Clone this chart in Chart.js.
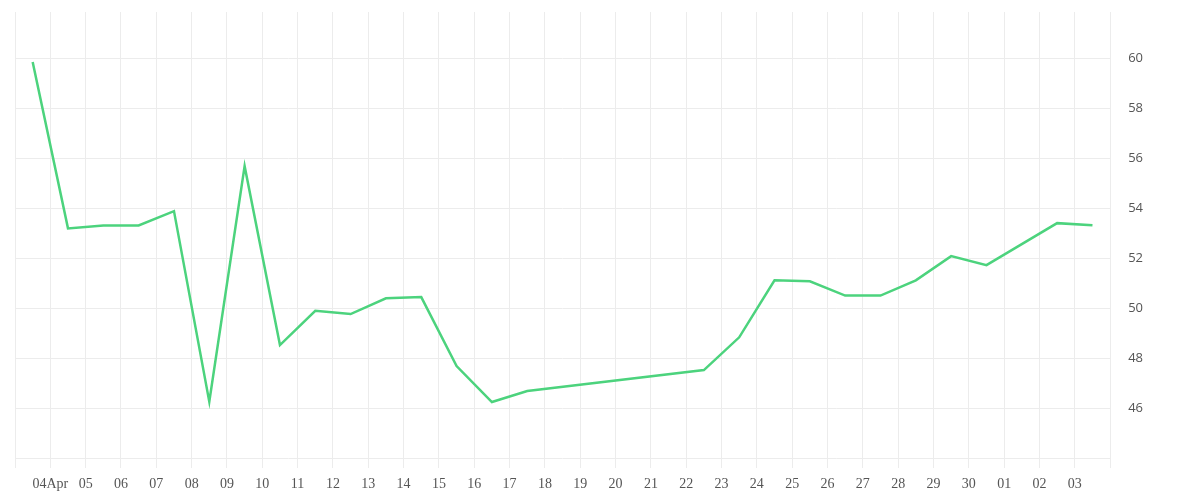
<!DOCTYPE html>
<html>
<head>
<meta charset="utf-8">
<script src="https://cdn.jsdelivr.net/npm/chart.js@4"></script>
<style>
  html, body { margin: 0; padding: 0; background: #fff; }
  #wrap { width: 1200px; height: 500px; }
</style>
</head>
<body>
<div id="wrap"><canvas id="priceChart"></canvas></div>
<script>
// --- data ---
const dates = ['04-03', '04-04', '04-05', '04-06', '04-07', '04-08', '04-09', '04-10',
    '04-11', '04-12', '04-13', '04-14', '04-15', '04-16', '04-17', '04-22', '04-23',
    '04-24', '04-25', '04-26', '04-27', '04-28', '04-29', '04-30', '05-02', '05-03'];
const values = [59.85, 53.19, 53.31, 53.31, 53.88, 46.25, 55.68, 48.52,
    49.89, 49.76, 50.39, 50.44, 47.68, 46.24, 46.68, 47.52, 48.83,
    51.11, 51.07, 50.50, 50.50, 51.11, 52.08, 51.72, 53.40, 53.32];
const tickLabels = ['04Apr', '05', '06', '07', '08', '09', '10', '11', '12', '13', '14',
    '15', '16', '17', '18', '19', '20', '21', '22', '23', '24', '25', '26', '27', '28',
    '29', '30', '01', '02', '03'];
const yTicks = [44, 46, 48, 50, 52, 54, 56, 58, 60];

// day offset from Apr 3 00:00, points sit at noon
function dayOffset(d) {
    const [m, day] = d.split('-').map(Number);
    return (m === 4 ? day - 3 : 30 - 3 + day) + 0.5;
}

const points = dates.map((d, i) => ({ x: dayOffset(d), y: values[i] }));
const gridColor = '#ececec';

document.addEventListener('DOMContentLoaded', function() {
    const ctx = document.getElementById('priceChart').getContext('2d');
    new Chart(ctx, {
        type: 'line',
        data: {
            datasets: [{
                data: points,
                borderColor: 'rgb(76, 211, 125)',
                borderWidth: 2.5,
                pointRadius: 0,
                tension: 0,
                fill: false
            }]
        },
        options: {
            responsive: true,
            maintainAspectRatio: false,
            animation: false,
            layout: { padding: { left: 15, top: 12, right: 39, bottom: 0 } },
            plugins: { legend: { display: false }, tooltip: { enabled: false } },
            scales: {
                x: {
                    type: 'linear',
                    min: 0,
                    max: 31,
                    afterBuildTicks: function(axis) {
                        const t = [];
                        for (let i = 0; i <= 31; i++) t.push({ value: i });
                        axis.ticks = t;
                    },
                    afterFit: function(axis) { axis.height = 42; },
                    grid: { color: gridColor, tickLength: 10, drawOnChartArea: true },
                    border: { display: false },
                    ticks: {
                        autoSkip: false,
                        maxRotation: 0,
                        padding: 8,
                        color: '#555',
                        font: { family: 'Liberation Serif', size: 14 },
                        callback: function(value) {
                            return (value >= 1 && value <= 30) ? tickLabels[value - 1] : '';
                        }
                    }
                },
                y: {
                    position: 'right',
                    min: 44,
                    max: 61.85,
                    afterBuildTicks: function(axis) {
                        axis.ticks = yTicks.map(v => ({ value: v }));
                    },
                    // keep the label gap from pushing the plot down
                    afterFit: function(axis) { axis.paddingTop = 0; axis.paddingBottom = 0; },
                    grid: { color: gridColor, drawTicks: false },
                    border: { display: false },
                    ticks: {
                        padding: 18,
                        color: '#555',
                        font: { family: 'Open Sans', size: 13 },
                        callback: function(value) { return value === 44 ? '' : value; }
                    }
                }
            }
        }
    });
});
</script>
</body>
</html>
